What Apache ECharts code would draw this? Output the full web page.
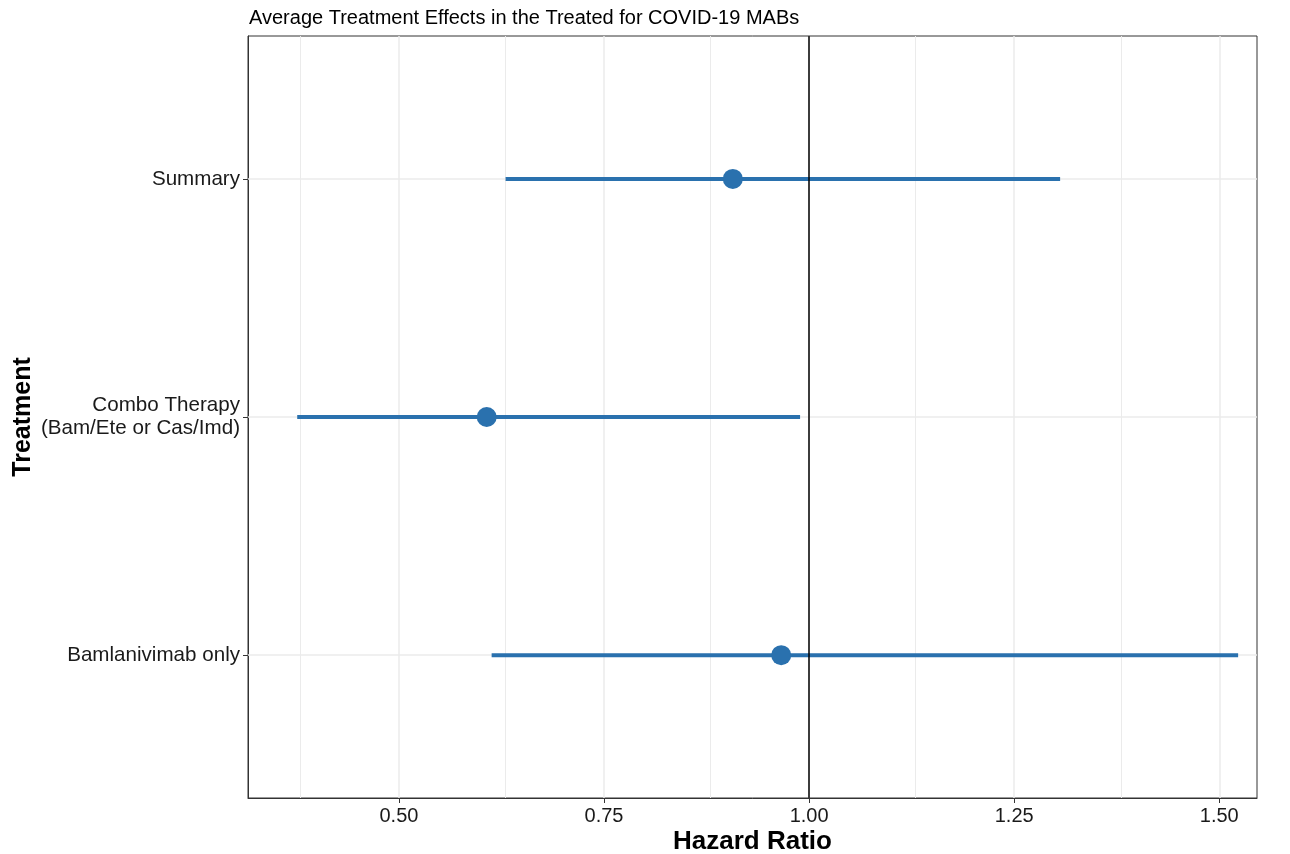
<!DOCTYPE html>
<html>
<head>
<meta charset="utf-8">
<script src="https://cdn.jsdelivr.net/npm/echarts@6/dist/echarts.min.js"></script>
<style>
html,body{margin:0;padding:0;background:#fff;}
#chart{width:1290px;height:854px;}
</style>
</head>
<body>
<div id="chart"></div>
<script>
// ---- data ----
const categories = ['Bamlanivimab only', 'Combo Therapy\n(Bam/Ete or Cas/Imd)', 'Summary'];
const estimates = [0.966, 0.607, 0.907];
const lowerCI = [0.613, 0.376, 0.630];
const upperCI = [1.523, 0.989, 1.306];
const xTicks = [0.50, 0.75, 1.00, 1.25, 1.50];
const xMinorTicks = [0.375, 0.625, 0.875, 1.125, 1.375];
const refLine = 1.0;
const yPositions = [1, 2, 3];

const blue = '#2a71ae';
const gridColor = '#ebebeb';

const pointData = estimates.map((v, i) => [v, yPositions[i]]);
const ciData = lowerCI.map((lo, i) => [lo, upperCI[i], yPositions[i]]);

const chart = echarts.init(document.getElementById('chart'));
const fontFamily = '"Liberation Sans", Arial, sans-serif';

chart.setOption({
  animation: false,
  textStyle: { fontFamily: fontFamily },
  title: {
    text: 'Average Treatment Effects in the Treated for COVID-19 MABs',
    left: 249, top: 8, padding: 0,
    textStyle: { fontSize: 20, fontWeight: 'normal', color: '#000', fontFamily: fontFamily }
  },
  grid: {
    left: 248, right: 33, top: 36, bottom: 56,
    containLabel: false, outerBoundsMode: 'none',
    show: true, borderColor: '#333', borderWidth: 1, backgroundColor: '#fff'
  },
  xAxis: {
    type: 'value', min: 0.316, max: 1.546,
    name: 'Hazard Ratio', nameLocation: 'middle', nameGap: 31, nameMoveOverlap: false,
    nameTextStyle: { fontSize: 26, fontWeight: 'bold', color: '#000', fontFamily: fontFamily },
    axisLine: { show: true, onZero: false, lineStyle: { color: '#333', width: 1 } },
    axisTick: { show: true, length: 5, lineStyle: { color: '#333' }, customValues: xTicks },
    axisLabel: { fontSize: 20, color: '#1a1a1a', margin: 8, customValues: xTicks,
      formatter: v => v.toFixed(2) },
    splitLine: { show: false }
  },
  yAxis: {
    type: 'value', min: 0.4, max: 3.6,
    name: 'Treatment', nameLocation: 'middle', nameGap: 212, nameRotate: 90, nameMoveOverlap: false,
    nameTextStyle: { fontSize: 25, fontWeight: 'bold', color: '#000', fontFamily: fontFamily },
    axisLine: { show: true, onZero: false, lineStyle: { color: '#333', width: 1 } },
    axisTick: { show: true, length: 5, lineStyle: { color: '#333' }, customValues: yPositions },
    axisLabel: { fontSize: 20.6, color: '#1a1a1a', margin: 8, align: 'right', lineHeight: 23,
      customValues: yPositions,
      formatter: v => categories[yPositions.indexOf(Math.round(v))] || '' },
    splitLine: { show: false }
  },
  series: [
    {
      type: 'line', data: [], silent: true, z: 1,
      markLine: {
        silent: true, symbol: 'none', animation: false, z: 1,
        label: { show: false },
        lineStyle: { color: gridColor, width: 1, type: 'solid' },
        data: xMinorTicks.map(v => ({ xAxis: v }))
      }
    },
    {
      type: 'line', data: [], silent: true, z: 1,
      markLine: {
        silent: true, symbol: 'none', animation: false, z: 1,
        label: { show: false },
        lineStyle: { color: gridColor, width: 1.5, type: 'solid' },
        data: xTicks.map(v => ({ xAxis: v })).concat(yPositions.map(v => ({ yAxis: v })))
      }
    },
    {
      type: 'custom', z: 3, silent: true,
      data: ciData,
      encode: { x: [0, 1], y: 2 },
      renderItem: function (params, api) {
        const a = api.coord([api.value(0), api.value(2)]);
        const b = api.coord([api.value(1), api.value(2)]);
        return { type: 'line', shape: { x1: a[0], y1: a[1], x2: b[0], y2: b[1] },
          style: { stroke: blue, lineWidth: 4 } };
      }
    },
    {
      type: 'line', data: [], silent: true, z: 4,
      markLine: {
        silent: true, symbol: 'none', animation: false, z: 4,
        label: { show: false },
        lineStyle: { color: '#000', width: 1.5, type: 'solid' },
        data: [{ xAxis: refLine }]
      }
    },
    {
      type: 'scatter', z: 5, silent: true,
      data: pointData, symbol: 'circle', symbolSize: 20,
      itemStyle: { color: blue, opacity: 1 }
    }
  ]
});
</script>
</body>
</html>
